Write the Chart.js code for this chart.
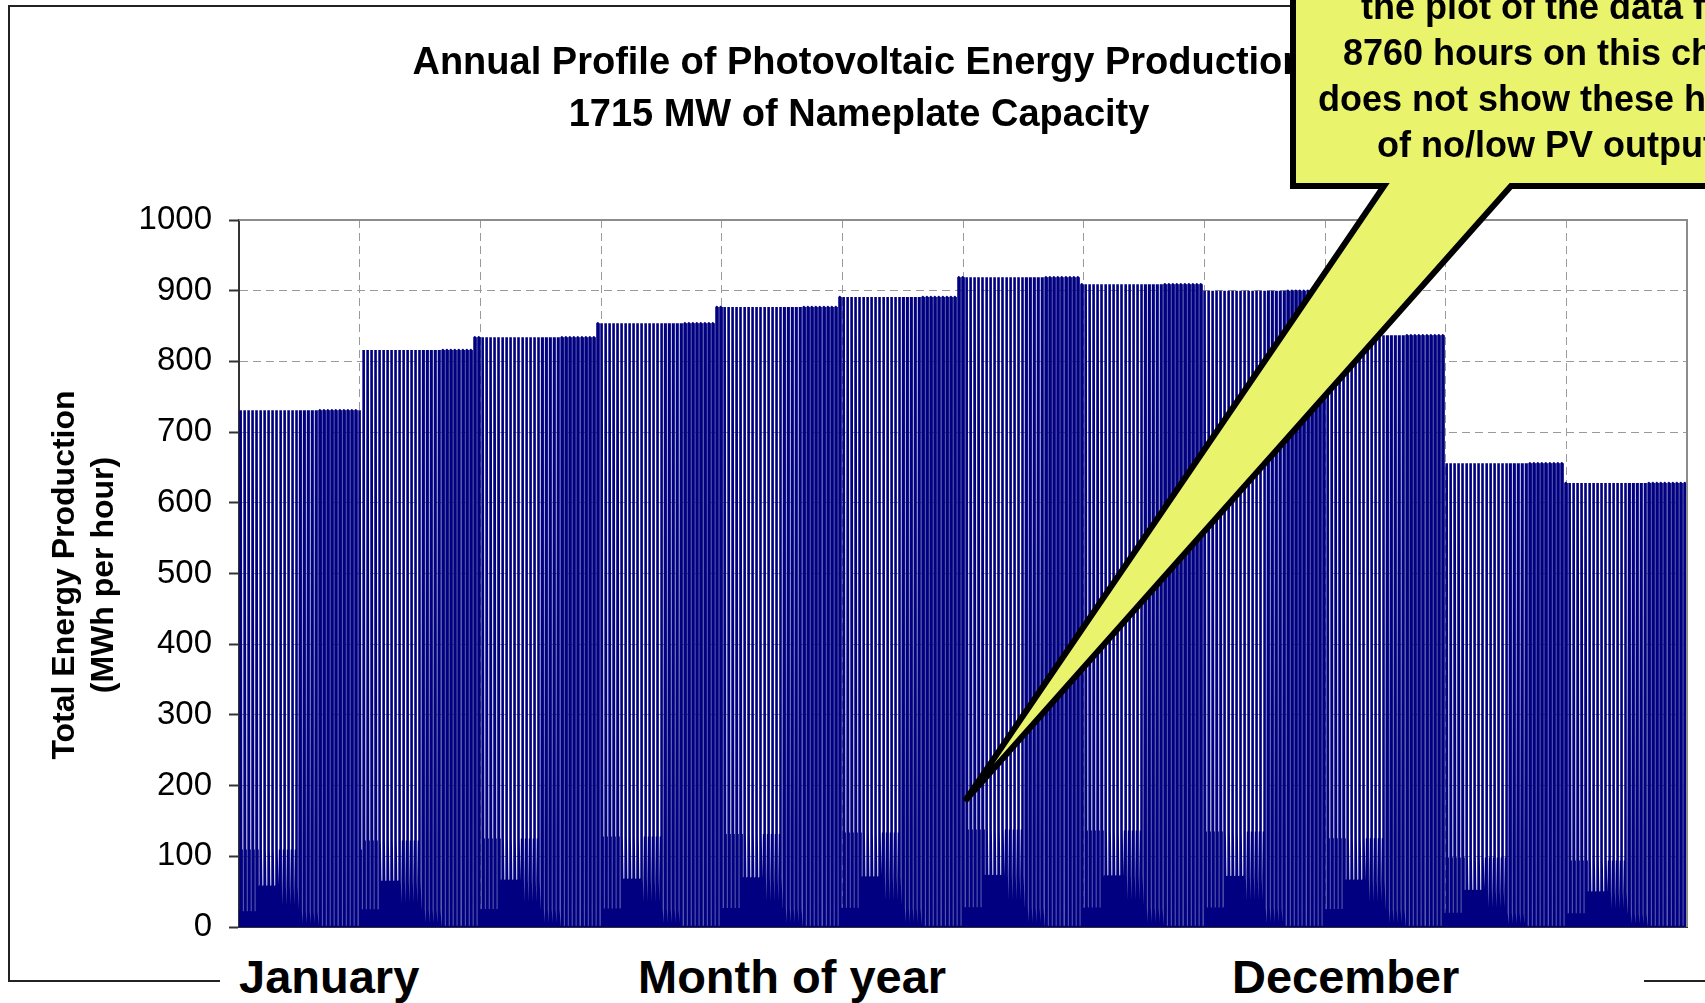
<!DOCTYPE html>
<html>
<head>
<meta charset="utf-8">
<title>Annual Profile of Photovoltaic Energy Production</title>
<script src="https://cdn.jsdelivr.net/npm/chart.js@4.4.0/dist/chart.umd.min.js"></script>
<style>
  body { margin: 0; background: #fff; width: 1705px; height: 1003px; overflow: hidden; position: relative;
         font-family: "Liberation Sans", Arial, sans-serif; color: #000; }
  #frame { position: absolute; left: 8px; top: 5px; width: 1800px; height: 973px; border: 2px solid #222; border-right: none; }
  #chart { position: absolute; left: 0; top: 0; }
  .title { position: absolute; left: 359px; width: 1000px; text-align: center; font-weight: bold; font-size: 38px; line-height: 44px; white-space: nowrap; }
  #ytitle { position: absolute; left: -167px; top: 536px; width: 500px; height: 78px; text-align: center; font-weight: bold;
            font-size: 32px; line-height: 39px; transform: rotate(-90deg); white-space: nowrap; }
  #bottom { position: absolute; left: 220px; top: 945px; width: 1424px; height: 58px; background: #fff; }
  .mlabel { position: absolute; top: 953px; font-weight: bold; font-size: 47px; line-height: 47px; white-space: nowrap; }
  #callout { position: absolute; left: 0; top: 0; }
  #note { position: absolute; left: 1251px; top: -16px; width: 600px; text-align: center; font-weight: bold; font-size: 36px; line-height: 46px; white-space: nowrap; }
</style>
</head>
<body>
<div id="frame"></div>
<canvas id="chart" width="1705" height="1003"></canvas>

<div class="title" style="top:39px">Annual Profile of Photovoltaic Energy Production</div>
<div class="title" style="top:91px">1715 MW of Nameplate Capacity</div>
<div id="ytitle">Total Energy Production<br>(MWh per hour)</div>

<div id="bottom"></div>
<div class="mlabel" style="left:239px">January</div>
<div class="mlabel" style="left:638px">Month of year</div>
<div class="mlabel" style="left:1232px">December</div>

<svg id="callout" width="1705" height="1003">
  <path d="M1293,-20 L1293,186 L1384,186 L965,801 L1511,186 L1850,186 L1850,-20 Z"
        fill="#eaf36c" stroke="#000" stroke-width="6" stroke-linejoin="miter"/>
</svg>
<div id="note">the plot of the data for<br>8760 hours on this chart<br>does not show these hours<br>of no/low PV output.</div>

<script>
// Monthly data
var months = ['January', 'February', 'March', 'April', 'May', 'June',
              'July', 'August', 'September', 'October', 'November', 'December'];
var monthDays = [31, 28, 31, 30, 31, 30, 31, 31, 30, 31, 30, 31];
// daily peak output per month (MWh per hour)
var monthPeak = [731, 816, 834, 854, 877, 891, 919, 909, 900, 837, 656, 628];
// share of the daily peak for each hour of the day
var hourShape = [0, 0, 0, 0, 0, 0, 0, 0.03, 0.08, 0.15, 1, 1,
                 1, 0.15, 0.08, 0.03, 0, 0, 0, 0, 0, 0, 0, 0];
var yTicks = [0, 100, 200, 300, 400, 500, 600, 700, 800, 900, 1000];
var hoursInYear = 8760;

var fontFamily = '"Liberation Sans", Arial, sans-serif';

// Build the hourly series (one point per hour of the year)
var hourly = [];
var hour = 0;
for (var m = 0; m < months.length; m++) {
    for (var d = 0; d < monthDays[m]; d++) {
        for (var h = 0; h < hourShape.length; h++) {
            hourly.push({ x: hour, y: monthPeak[m] * hourShape[h] });
            hour++;
        }
    }
}

// Grey solid line on the top and right of the plot area
var plotFrame = {
    id: 'plotFrame',
    afterDraw: function (chart) {
        var ctx = chart.ctx;
        var a = chart.chartArea;
        ctx.save();
        ctx.strokeStyle = '#8c8c8c';
        ctx.lineWidth = 2;
        ctx.beginPath();
        ctx.moveTo(a.left, a.top);
        ctx.lineTo(a.right, a.top);
        ctx.lineTo(a.right, a.bottom);
        ctx.stroke();
        ctx.restore();
    }
};

var ctx = document.getElementById('chart').getContext('2d');
var pvChart = new Chart(ctx, {
    type: 'line',
    data: {
        datasets: [{
            label: 'Total Energy Production',
            data: hourly,
            borderColor: '#000080',
            borderWidth: 2.6,
            borderJoinStyle: 'bevel',
            pointRadius: 0,
            fill: false,
            tension: 0
        }]
    },
    options: {
        responsive: false,
        animation: false,
        parsing: false,
        normalized: true,
        layout: { padding: { top: 220, right: 18, bottom: 76, left: 0 } },
        plugins: {
            legend: { display: false },
            tooltip: { enabled: false },
            title: { display: false }
        },
        scales: {
            x: {
                type: 'linear',
                min: 0,
                max: hoursInYear,
                ticks: { display: false, stepSize: hoursInYear / months.length },
                grid: {
                    drawTicks: false,
                    lineWidth: 1,
                    color: function (c) {
                        var v = c.tick ? c.tick.value : 0;
                        return (v === 0 || v === hoursInYear) ? 'rgba(0,0,0,0)' : '#9a9a9a';
                    }
                },
                border: { display: true, color: '#333', width: 2, dash: [8, 5] },
                afterFit: function (s) { s.height = 0; }
            },
            y: {
                min: yTicks[0],
                max: yTicks[yTicks.length - 1],
                afterBuildTicks: function (s) {
                    s.ticks = yTicks.map(function (v) { return { value: v }; });
                },
                ticks: {
                    color: '#000',
                    padding: 17,
                    font: { family: fontFamily, size: 33 },
                    callback: function (v) { return String(v); }
                },
                grid: {
                    lineWidth: 1,
                    color: function (c) {
                        var v = c.tick ? c.tick.value : 0;
                        return (v === 0) ? 'rgba(0,0,0,0)' : '#9a9a9a';
                    },
                    tickLength: 10,
                    tickColor: '#333',
                    tickWidth: 2,
                    tickBorderDash: []
                },
                border: { display: true, color: '#333', width: 2, dash: [8, 5] },
                afterFit: function (s) { s.width = 239; }
            }
        }
    },
    plugins: [plotFrame]
});
</script>
</body>
</html>
